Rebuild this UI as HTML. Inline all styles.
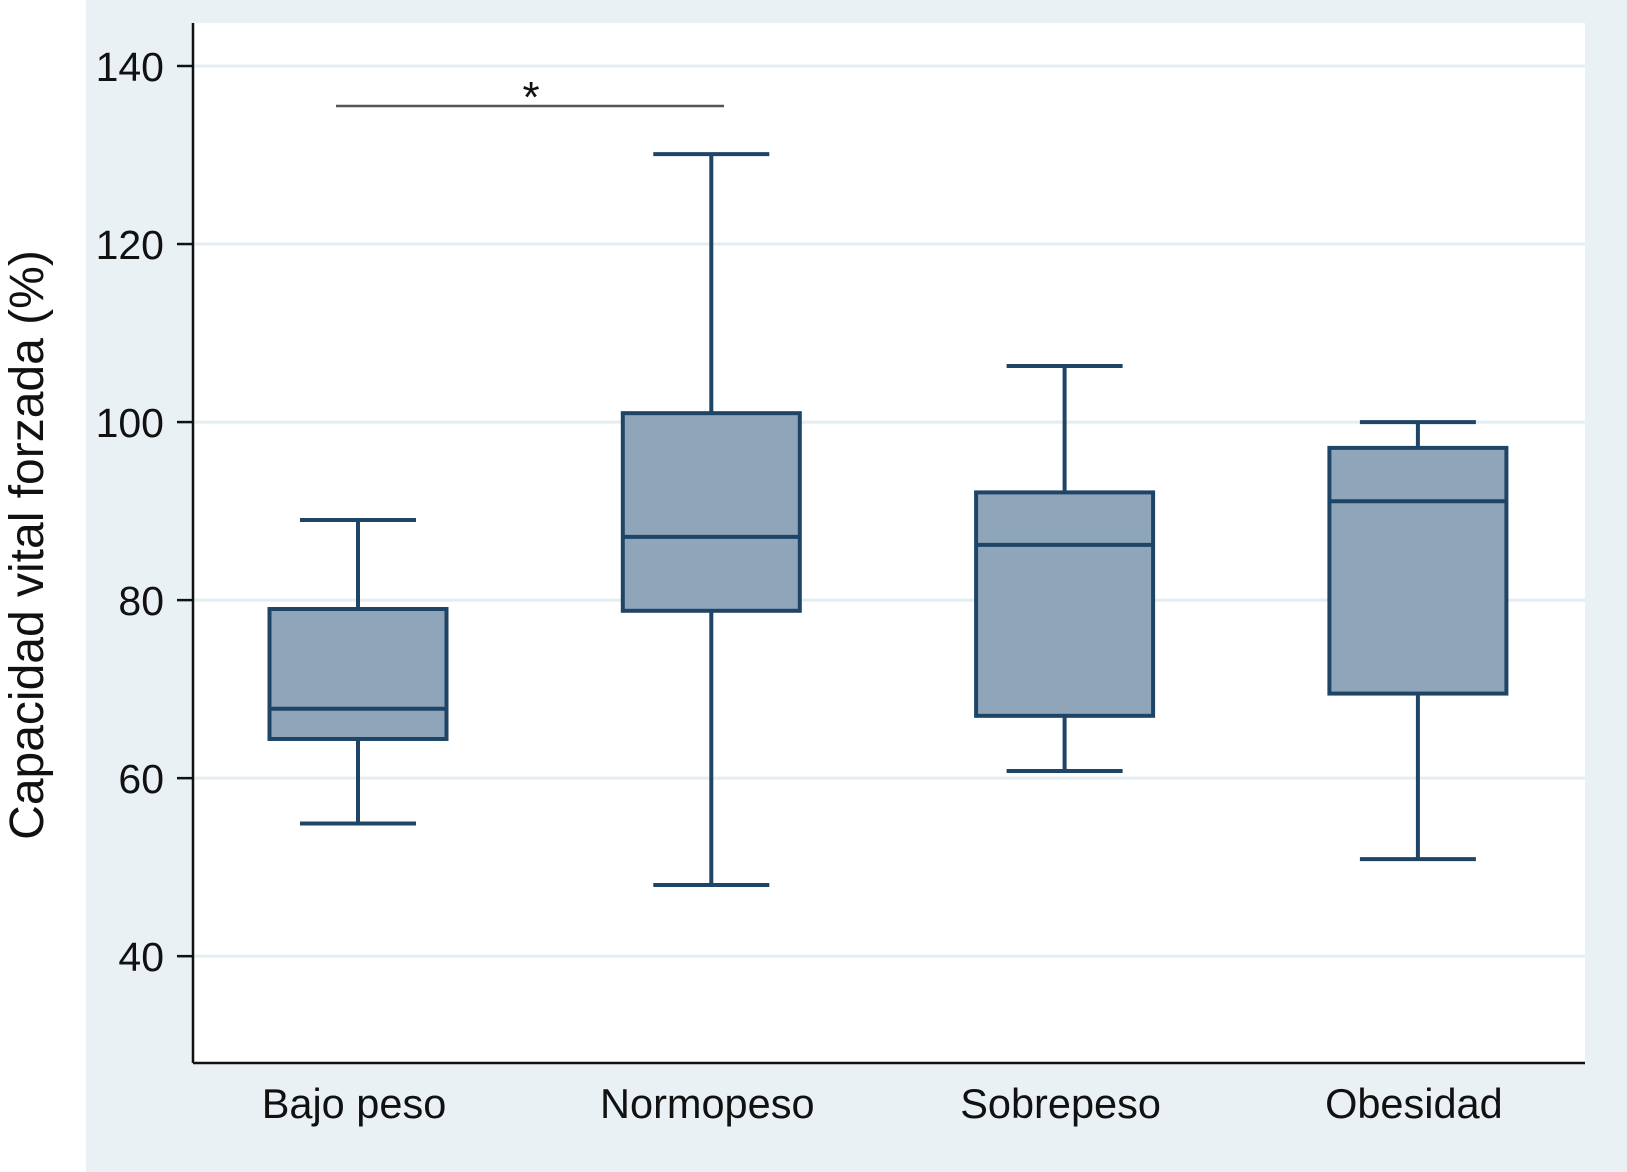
<!DOCTYPE html>
<html><head><meta charset="utf-8"><style>
html,body{margin:0;padding:0;background:#fff;}
svg{display:block;font-family:"Liberation Sans",sans-serif;}
</style></head><body>
<svg id="chart" width="1627" height="1172">
<rect x="86" y="0" width="1541" height="1172" fill="#eaf1f4"/>
<rect x="193" y="23" width="1392" height="1040" fill="#fff"/>
<g id="grid"></g>
<g id="boxes"></g>
<line x1="193" y1="23" x2="193" y2="1063" stroke="#111" stroke-width="2.5"/>
<line x1="193" y1="1063" x2="1585" y2="1063" stroke="#111" stroke-width="2.5"/>
<g id="yticks"></g>
<g id="xlabels"></g>
<text x="0" y="0" transform="translate(43,545) rotate(-90)" text-anchor="middle" font-size="48" fill="#111">Capacidad vital forzada (%)</text>
<line x1="336" y1="106" x2="724" y2="106" stroke="#555" stroke-width="2.5"/>
<text x="531" y="112" text-anchor="middle" font-size="44" fill="#111">*</text>
</svg>
<script>
const categories = ["Bajo peso","Normopeso","Sobrepeso","Obesidad"];
const whiskerLow = [54.9,48,60.8,50.9];
const q1 = [64.4,78.8,67,69.5];
const median = [67.8,87.1,86.2,91.1];
const q3 = [79,101,92.1,97.1];
const whiskerHigh = [89,130.1,106.3,100];
const yTicks = [40,60,80,100,120,140];

const NS="http://www.w3.org/2000/svg";
const yMin=28, yMax=140, pyBottom=1063, pyTop=66;
function y(v){return pyBottom-(v-yMin)/(yMax-yMin)*(pyBottom-pyTop);}
const x0=193, x1=1585;
function x(i){return 358+i*353.3;}
function mk(tag,attrs,parent){const e=document.createElementNS(NS,tag);for(const k in attrs)e.setAttribute(k,attrs[k]);parent.appendChild(e);return e;}
const grid=document.getElementById('grid'),yt=document.getElementById('yticks'),bx=document.getElementById('boxes'),xl=document.getElementById('xlabels');
yTicks.forEach(t=>{
  const g=mk('line',{x1:x0,x2:x1,y1:y(t),y2:y(t),stroke:'#e4edf1','stroke-width':3},grid);
  
  
  const tk=mk('line',{x1:177,x2:193,y1:y(t),y2:y(t),stroke:'#111','stroke-width':2.5},yt);
  
  
  const tx=mk('text',{x:164,y:y(t)+15,'text-anchor':'end','font-size':41,fill:'#111'},yt);
  tx.textContent=t;
  
  
});
const st={stroke:'#1f4566','stroke-width':4,fill:'none'};
categories.forEach((c,i)=>{
  const cx=x(i),bw=177,cw=116;
  const g=mk('g',{},bx);
  
  
  mk('line',Object.assign({x1:cx,x2:cx,y1:y(whiskerHigh[i]),y2:y(q3[i])},st),g);
  mk('line',Object.assign({x1:cx,x2:cx,y1:y(q1[i]),y2:y(whiskerLow[i])},st),g);
  mk('line',Object.assign({x1:cx-cw/2,x2:cx+cw/2,y1:y(whiskerHigh[i]),y2:y(whiskerHigh[i])},st),g);
  mk('line',Object.assign({x1:cx-cw/2,x2:cx+cw/2,y1:y(whiskerLow[i]),y2:y(whiskerLow[i])},st),g);
  mk('rect',{x:cx-bw/2,y:y(q3[i]),width:bw,height:y(q1[i])-y(q3[i]),fill:'#8fa5ba',stroke:'#1f4566','stroke-width':4},g);
  mk('line',Object.assign({x1:cx-bw/2,x2:cx+bw/2,y1:y(median[i]),y2:y(median[i])},st),g);
  const t=mk('text',{x:cx-4,y:1118,'text-anchor':'middle','font-size':41.5,fill:'#111'},xl);
  t.textContent=c;
  
  
});
</script>
</body></html>
